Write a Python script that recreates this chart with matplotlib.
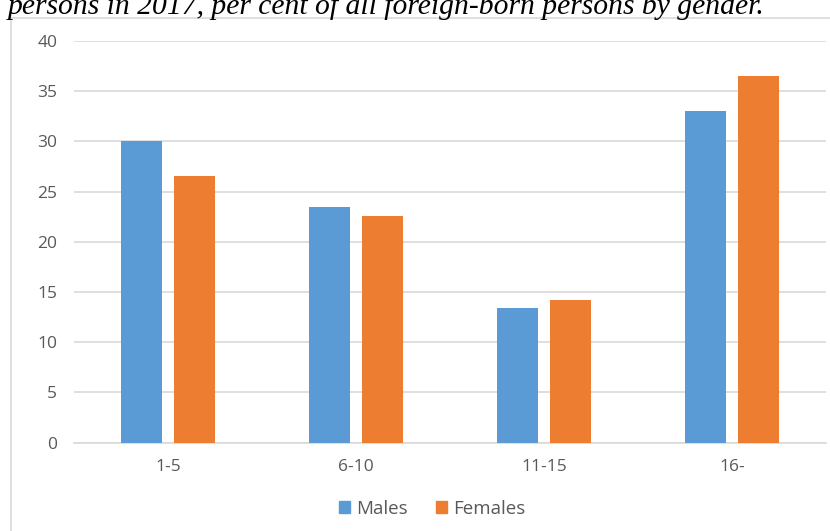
import numpy as np
import matplotlib.pyplot as plt
from matplotlib.lines import Line2D
from matplotlib.patches import Patch

# years of residence groups and shares (%) of foreign-born persons
groups = ['1-5', '6-10', '11-15', '16-']
males = [30.0, 23.5, 13.4, 33.0]
females = [26.6, 22.6, 14.2, 36.5]
yticks = [0, 5, 10, 15, 20, 25, 30, 35, 40]

blue = '#5B9BD5'
orange = '#ED7D31'
grey_text = '#595959'
grid_col = '#D9D9D9'

plt.rcParams['font.family'] = ['Open Sans', 'DejaVu Sans']

fig = plt.figure(figsize=(8.3, 5.31), dpi=100)

# chart frame, left and top edges only fall inside the page
fig.add_artist(Line2D([11 / 830, 11 / 830], [0, 1 - 18 / 531],
                      transform=fig.transFigure, color=grid_col, lw=1.2))
fig.add_artist(Line2D([11 / 830, 1], [1 - 18 / 531, 1 - 18 / 531],
                      transform=fig.transFigure, color=grid_col, lw=1.2))

# caption from the page above, running off the top edge
fig.text(8 / 830, 1 - 14 / 531,
         'persons in 2017, per cent of all foreign-born persons by gender.',
         family='Liberation Serif', style='italic', fontsize=21.3,
         va='baseline', ha='left', color='black')

ax = fig.add_axes([74 / 830, 1 - 442.7 / 531, 752 / 830, (442.7 - 41) / 531])

x = np.arange(len(groups))
w = 0.223
gap = 0.059
ax.bar(x - (w + gap) / 2, males, width=w, color=blue, zorder=3, label='Males')
ax.bar(x + (w + gap) / 2, females, width=w, color=orange, zorder=3, label='Females')

ax.set_xlim(-0.5, len(groups) - 0.5)
ax.set_ylim(0, 40)
ax.set_yticks(yticks)
ax.set_xticks(x)
ax.set_xticklabels(groups)
ax.yaxis.grid(True, color=grid_col, lw=1.2, zorder=0)
ax.set_axisbelow(True)
for s in ['top', 'right', 'left']:
    ax.spines[s].set_visible(False)
ax.spines['bottom'].set_color(grid_col)
ax.spines['bottom'].set_linewidth(1.2)
ax.tick_params(axis='both', length=0, labelsize=12.5, colors=grey_text)
ax.tick_params(axis='y', pad=12)
ax.tick_params(axis='x', pad=12)

handles = [Patch(color=blue, label='Males'), Patch(color=orange, label='Females')]
fig.legend(handles=handles, loc='center', bbox_to_anchor=(432 / 830, 1 - 509 / 531),
           ncol=2, frameon=False, fontsize=13.5, handlelength=0.6, handleheight=0.6,
           handletextpad=0.3, columnspacing=1.5, labelcolor=grey_text)

fig.savefig('out.png', dpi=100)
